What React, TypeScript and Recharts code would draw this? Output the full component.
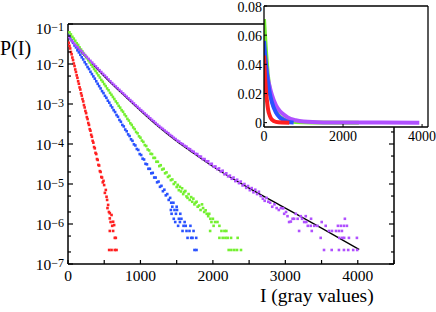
import React from 'react';
import { ComposedChart, Scatter, Line, XAxis, YAxis, CartesianGrid } from 'recharts';

const FONT = '"Liberation Serif", "Times New Roman", serif';

// ---------- main panel data: [gray value I, P(I)] ----------
const redPts = [
  [10, 3.4e-2], [20, 2.85e-2], [30, 2.45e-2], [40, 2.0e-2], [50, 1.75e-2], [60, 1.45e-2], [70, 1.25e-2], [80, 1.03e-2],
  [90, 8.9e-3], [100, 7.3e-3], [110, 6.3e-3], [120, 5.2e-3], [130, 4.5e-3], [140, 3.7e-3], [150, 3.2e-3], [160, 2.6e-3],
  [170, 2.3e-3], [180, 1.85e-3], [190, 1.62e-3], [200, 1.33e-3], [210, 1.16e-3], [220, 9.4e-4], [230, 8.2e-4], [240, 6.7e-4],
  [250, 5.9e-4], [260, 4.7e-4], [270, 4.2e-4], [280, 3.35e-4], [290, 3.0e-4], [300, 2.35e-4], [310, 2.15e-4], [320, 1.7e-4],
  [330, 1.52e-4], [340, 1.2e-4], [350, 1.08e-4], [360, 8.4e-5], [370, 7.8e-5], [380, 6.0e-5], [390, 5.6e-5], [400, 4.2e-5],
  [410, 4.0e-5], [420, 3.0e-5], [430, 2.9e-5], [440, 2.1e-5], [450, 2.0e-5], [460, 1.5e-5], [470, 1.45e-5], [480, 1.1e-5],
  [490, 1.2e-5], [499, 9.4e-6], [509, 6.0e-6], [522, 7.1e-6], [532, 4.8e-6], [540, 4.0e-6], [545, 2.5e-6], [554, 3.0e-6],
  [565, 2.0e-6], [577, 1.86e-6], [577, 1.38e-6], [577, 6.7e-7], [588, 1.12e-6], [601, 1.68e-6], [610, 9e-7], [623, 1.14e-6],
  [623, 6.7e-7], [637, 9.4e-7], [646, 4.5e-7], [660, 4.5e-7], [568, 2.24e-7], [601, 2.24e-7], [646, 2.24e-7], [670, 2.24e-7],
];

const bluePts = [
  [10, 5.1e-2], [30, 4.4e-2], [50, 3.9e-2], [70, 3.4e-2], [90, 2.9e-2], [110, 2.6e-2], [130, 2.2e-2], [150, 1.95e-2],
  [170, 1.7e-2], [190, 1.47e-2], [210, 1.3e-2], [230, 1.11e-2], [250, 9.8e-3], [270, 8.4e-3], [290, 7.5e-3], [310, 6.4e-3],
  [330, 5.6e-3], [350, 4.9e-3], [370, 4.3e-3], [390, 3.7e-3], [410, 3.2e-3], [430, 2.8e-3], [450, 2.45e-3], [470, 2.1e-3],
  [490, 1.87e-3], [510, 1.6e-3], [530, 1.43e-3], [550, 1.21e-3], [570, 1.08e-3], [590, 9.2e-4], [610, 8.2e-4], [630, 7.0e-4],
  [650, 6.3e-4], [670, 5.3e-4], [690, 4.8e-4], [710, 4.0e-4], [730, 3.6e-4], [750, 3.0e-4], [770, 2.75e-4], [790, 2.3e-4],
  [810, 2.08e-4], [830, 1.74e-4], [850, 1.58e-4], [870, 1.31e-4], [890, 1.2e-4], [910, 9.8e-5], [930, 9.2e-5], [950, 7.5e-5],
  [970, 7.1e-5], [990, 5.6e-5], [1010, 5.3e-5], [1030, 4.3e-5], [1050, 4.1e-5], [1070, 3.2e-5], [1090, 3.1e-5], [1110, 2.4e-5],
  [1130, 2.4e-5], [1150, 1.85e-5], [1170, 1.9e-5], [1190, 1.45e-5], [1210, 1.45e-5], [1230, 1.1e-5], [1250, 1.15e-5],
  [1270, 8.5e-6], [1290, 9.0e-6], [1310, 6.6e-6], [1330, 7.2e-6], [1350, 5.2e-6], [1370, 5.6e-6], [1390, 4.0e-6], [1410, 4.5e-6],
  [1420, 2.24e-6], [1425, 3.4e-6], [1430, 1.8e-6], [1440, 2.7e-6], [1455, 3.4e-6], [1460, 1.35e-6], [1470, 2.24e-6],
  [1480, 1.12e-6], [1490, 1.8e-6], [1500, 2.7e-6], [1505, 2.24e-6], [1520, 9e-7], [1530, 1.35e-6], [1545, 1.12e-6],
  [1550, 1.8e-6], [1565, 1.35e-6], [1581, 6.7e-7], [1595, 9e-7], [1610, 1.12e-6], [1625, 9e-7], [1636, 6.7e-7],
  [1650, 4.5e-7], [1677, 6.7e-7], [1690, 9e-7], [1700, 4.5e-7], [1719, 4.5e-7], [1733, 6.7e-7], [1746, 2.24e-7],
  [1770, 4.5e-7], [1774, 2.24e-7],
];

const greenPts = [
  [20, 6.2e-2], [40, 5.5e-2], [60, 4.8e-2], [80, 4.3e-2], [100, 3.8e-2], [120, 3.3e-2], [140, 3.0e-2], [160, 2.6e-2],
  [180, 2.3e-2], [200, 2.05e-2], [220, 1.8e-2], [240, 1.6e-2], [260, 1.4e-2], [280, 1.25e-2], [300, 1.1e-2], [320, 9.6e-3],
  [340, 8.6e-3], [360, 7.5e-3], [380, 6.7e-3], [400, 5.9e-3], [420, 5.2e-3], [440, 4.6e-3], [460, 4.0e-3], [480, 3.6e-3],
  [500, 3.15e-3], [520, 2.8e-3], [540, 2.45e-3], [560, 2.2e-3], [580, 1.9e-3], [600, 1.7e-3], [620, 1.5e-3], [640, 1.33e-3],
  [660, 1.16e-3], [680, 1.04e-3], [700, 9.0e-4], [720, 8.1e-4], [740, 7.0e-4], [760, 6.4e-4], [780, 5.5e-4], [800, 4.95e-4],
  [820, 4.25e-4], [840, 3.85e-4], [860, 3.3e-4], [880, 3.0e-4], [900, 2.6e-4], [920, 2.35e-4], [940, 2.0e-4], [960, 1.85e-4],
  [980, 1.56e-4], [1000, 1.44e-4], [1020, 1.22e-4], [1040, 1.13e-4], [1060, 9.4e-5], [1080, 8.9e-5], [1100, 7.3e-5],
  [1120, 6.9e-5], [1140, 5.7e-5], [1160, 5.6e-5], [1180, 4.5e-5], [1200, 4.5e-5], [1220, 3.6e-5], [1240, 3.6e-5],
  [1260, 2.8e-5], [1280, 2.95e-5], [1300, 2.3e-5], [1320, 2.4e-5], [1340, 1.85e-5], [1360, 1.95e-5], [1380, 1.5e-5],
  [1400, 1.6e-5], [1420, 1.25e-5], [1440, 1.3e-5], [1460, 1.0e-5], [1480, 1.1e-5], [1500, 8.4e-6],
  [1515, 9.5e-6], [1530, 7.0e-6], [1545, 8.5e-6], [1560, 6.5e-6], [1575, 7.8e-6], [1590, 5.6e-6], [1605, 6.3e-6],
  [1620, 6.7e-6], [1635, 4.9e-6], [1650, 4.5e-6], [1665, 5.6e-6], [1680, 4.0e-6], [1700, 4.7e-6], [1715, 3.6e-6],
  [1730, 4.3e-6], [1745, 3.1e-6], [1760, 3.4e-6], [1775, 3.6e-6], [1790, 2.7e-6], [1810, 2.9e-6], [1830, 2.24e-6],
  [1850, 3.1e-6], [1865, 2.5e-6], [1880, 2.0e-6], [1900, 2.2e-6], [1915, 1.8e-6], [1935, 1.57e-6], [1950, 1.8e-6],
  [1962, 6.7e-7], [1965, 1.35e-6], [1980, 1.12e-6], [2000, 1.35e-6], [2010, 9e-7], [2030, 1.12e-6], [2063, 1.12e-6],
  [2090, 9e-7], [2090, 4.5e-7], [2118, 6.7e-7], [2135, 4.5e-7], [2159, 6.7e-7], [2173, 4.5e-7], [2186, 6.7e-7],
  [2204, 4.5e-7], [2218, 2.24e-7], [2251, 4.5e-7], [2255, 2.24e-7], [2296, 2.24e-7], [2333, 2.24e-7], [2342, 4.5e-7],
  [2388, 2.24e-7],
];

const purplePts = [
  [10, 4.75e-2], [35, 4.15e-2], [60, 3.65e-2], [85, 3.2e-2], [110, 2.88e-2], [135, 2.6e-2], [160, 2.3e-2], [185, 2.1e-2],
  [210, 1.87e-2], [235, 1.67e-2], [260, 1.5e-2], [285, 1.34e-2], [310, 1.2e-2], [335, 1.08e-2], [360, 9.7e-3], [385, 8.7e-3],
  [410, 7.8e-3], [435, 7.0e-3], [460, 6.3e-3], [485, 5.65e-3], [510, 5.1e-3], [535, 4.6e-3], [560, 4.1e-3], [585, 3.7e-3],
  [610, 3.33e-3], [635, 3.02e-3], [660, 2.74e-3], [685, 2.48e-3], [710, 2.25e-3], [735, 2.04e-3], [760, 1.85e-3],
  [785, 1.68e-3], [810, 1.52e-3], [835, 1.38e-3], [860, 1.25e-3], [885, 1.14e-3], [910, 1.03e-3], [935, 9.3e-4],
  [960, 8.5e-4], [985, 7.7e-4], [1010, 7.0e-4], [1035, 6.4e-4], [1060, 5.8e-4], [1085, 5.3e-4], [1110, 4.85e-4],
  [1135, 4.4e-4], [1160, 4.0e-4], [1185, 3.7e-4], [1210, 3.35e-4], [1235, 3.05e-4], [1260, 2.8e-4], [1285, 2.55e-4],
  [1310, 2.38e-4], [1335, 2.17e-4], [1360, 2.0e-4], [1385, 1.86e-4], [1410, 1.68e-4], [1435, 1.57e-4], [1460, 1.43e-4],
  [1485, 1.33e-4], [1510, 1.21e-4], [1535, 1.15e-4], [1560, 1.04e-4], [1585, 9.9e-5], [1610, 9.0e-5], [1635, 8.6e-5],
  [1660, 7.7e-5], [1685, 7.4e-5], [1710, 6.7e-5], [1735, 6.4e-5], [1760, 5.7e-5], [1785, 5.6e-5], [1810, 4.9e-5],
  [1835, 4.85e-5], [1860, 4.2e-5], [1885, 4.2e-5], [1910, 3.7e-5], [1935, 3.7e-5], [1960, 3.15e-5], [1985, 3.2e-5],
  [2010, 2.7e-5], [2035, 2.75e-5], [2060, 2.35e-5], [2085, 2.45e-5], [2110, 2.05e-5], [2135, 2.15e-5], [2160, 1.75e-5],
  [2185, 1.85e-5], [2210, 1.55e-5], [2235, 1.62e-5], [2260, 1.35e-5], [2285, 1.45e-5], [2310, 1.18e-5], [2335, 1.28e-5],
  [2360, 1.05e-5], [2385, 1.15e-5], [2410, 9.2e-6], [2435, 1.0e-5], [2460, 8.0e-6], [2485, 8.9e-6], [2510, 7.0e-6],
  [2535, 7.9e-6], [2560, 6.2e-6], [2585, 7.2e-6], [2610, 5.6e-6], [2635, 6.4e-6], [2660, 5.0e-6],
  [2690, 4.3e-6], [2715, 3.8e-6], [2740, 4.5e-6], [2765, 3.6e-6], [2790, 3.4e-6], [2819, 2.7e-6], [2850, 3.1e-6],
  [2880, 2.5e-6], [2910, 2.24e-6], [2940, 2.5e-6], [2970, 2.46e-6], [2984, 1.8e-6], [3010, 2.0e-6], [3030, 1.57e-6],
  [3052, 1.12e-6], [3076, 1.15e-6], [3100, 1.35e-6], [3121, 1.35e-6], [3144, 1.8e-6], [3170, 1.35e-6], [3190, 6.7e-7],
  [3213, 1.57e-6], [3231, 1.35e-6], [3260, 1.12e-6], [3282, 1.57e-6], [3290, 1.12e-6], [3310, 9e-7], [3351, 9e-7],
  [3355, 1.35e-6], [3365, 6.7e-7], [3400, 9e-7], [3442, 9e-7], [3488, 4.5e-7], [3502, 1.12e-6], [3534, 2.24e-7],
  [3557, 9e-7], [3603, 6.7e-7], [3640, 2.24e-7], [3644, 6.7e-7], [3699, 6.7e-7], [3726, 9e-7], [3740, 6.7e-7],
  [3745, 4.5e-7], [3740, 2.24e-7], [3767, 9e-7], [3781, 6.7e-7], [3785, 4.5e-7], [3809, 9e-7], [3812, 4.5e-7],
  [3809, 2.24e-7], [3822, 1.35e-6], [3850, 9e-7], [3868, 2.24e-7], [3878, 4.5e-7], [3937, 2.24e-7], [3988, 4.5e-7],
  [3992, 2.24e-7],
];

const fitPts = [
  [0, 5.0e-2], [100, 2.95e-2], [200, 1.82e-2], [300, 1.17e-2], [400, 7.6e-3], [600, 3.24e-3], [800, 1.48e-3],
  [1000, 6.8e-4], [1250, 2.7e-4], [1500, 1.17e-4], [1750, 5.6e-5], [2000, 2.75e-5], [2500, 7.9e-6], [3000, 2.5e-6],
  [3500, 7.9e-7], [4020, 2.3e-7],
];

// ---------- inset data (linear axes) ----------
const insetRed = [[0, 0.046], [25, 0.032], [50, 0.022], [75, 0.015], [100, 0.0095], [150, 0.0045], [200, 0.002], [300, 0.0005], [450, 0.0001], [640, 0]];
const insetGreen = [[0, 0.071], [25, 0.06], [50, 0.049], [75, 0.04], [100, 0.032], [150, 0.022], [200, 0.015], [300, 0.008], [500, 0.0022], [800, 0.0004], [1200, 0.00005], [2400, 0]];
const insetBlue = [[0, 0.056], [50, 0.04], [100, 0.028], [150, 0.0195], [200, 0.014], [300, 0.007], [400, 0.0035], [500, 0.0018], [600, 0.0006], [750, 0]];
const insetPurple = [[0, 0.05], [50, 0.039], [100, 0.03], [150, 0.024], [200, 0.019], [300, 0.012], [400, 0.008], [500, 0.0055], [600, 0.0035], [800, 0.0016], [1000, 0.0007], [1500, 0.00012], [2000, 0.00003], [3930, 0]];

// ---------- ticks ----------
const xTicksMain = [0, 500, 1000, 1500, 2000, 2500, 3000, 3500, 4000, 4500];
const xLabelsMain = [0, 1000, 2000, 3000, 4000];
const yDecades = [1e-7, 1e-6, 1e-5, 1e-4, 1e-3, 1e-2, 1e-1];
const yMinorMantissas = [2, 5];
const yTicksMain = yDecades.flatMap((d, i) => (i < yDecades.length - 1 ? [d, ...yMinorMantissas.map((m) => m * d)] : [d]));
const xTicksInset = [0, 2000, 4000];
const yTicksInset = [0, 0.02, 0.04, 0.06, 0.08];

const COLORS = { red: '#ff2020', green: '#74f030', blue: '#2a52ff', purple: '#b050ff', fit: '#000' };
const M = 3;

const toXY = (pts: number[][]) => pts.map(([x, y]) => ({ x, y }));
const isDecade = (v: number) => Math.abs(Math.log10(v) - Math.round(Math.log10(v))) < 1e-6;

function BottomTick(p: any) {
  const { x, y, payload } = p;
  const ay = y - M;
  const v = payload.value;
  return (
    <g>
      <line x1={x} x2={x} y1={ay} y2={ay - 4} stroke="#000" strokeWidth={1.2} />
      {xLabelsMain.includes(v) && (
        <text x={x} y={ay + 17} textAnchor="middle" fontFamily={FONT} fontSize={15.5} fill="#000">{v}</text>
      )}
    </g>
  );
}
function TopTick(p: any) {
  const { x, y } = p;
  const ay = y + M;
  return <line x1={x} x2={x} y1={ay} y2={ay + 4} stroke="#000" strokeWidth={1.2} />;
}
function LeftTick(p: any) {
  const { x, y, payload } = p;
  const ax = x + M;
  const v = payload.value;
  const major = isDecade(v);
  const exp = Math.round(Math.log10(v));
  const base = v >= 0.099 ? y + 10 : y + 6;
  return (
    <g>
      <line x1={ax} x2={ax + (major ? 5 : 3)} y1={y} y2={y} stroke="#000" strokeWidth={1.2} />
      {major && (
        <text x={ax - 4} y={base} textAnchor="end" fontFamily={FONT} fontSize={15.5} fill="#000">
          <tspan>10</tspan>
          <tspan dy={-3.5} fontSize={12}>{'\u2212' + Math.abs(exp)}</tspan>
        </text>
      )}
    </g>
  );
}
function RightTick(p: any) {
  const { x, y, payload } = p;
  const ax = x - M;
  const major = isDecade(payload.value);
  return <line x1={ax} x2={ax - (major ? 5 : 3)} y1={y} y2={y} stroke="#000" strokeWidth={1.2} />;
}
function InsetBottomTick(p: any) {
  const { x, y, payload } = p;
  const ay = y - M;
  return (
    <g>
      <line x1={x} x2={x} y1={ay} y2={ay - 3} stroke="#000" strokeWidth={1} />
      <text x={x} y={ay + 14} textAnchor="middle" fontFamily={FONT} fontSize={14} fill="#000">{payload.value}</text>
    </g>
  );
}
function InsetLeftTick(p: any) {
  const { x, y, payload } = p;
  const ax = x + M;
  const v = payload.value;
  return (
    <g>
      <line x1={ax} x2={ax + 3} y1={y} y2={y} stroke="#000" strokeWidth={1} />
      <text x={ax - 2} y={y + 5.5} textAnchor="end" fontFamily={FONT} fontSize={14} fill="#000">{v === 0 ? '0' : v.toFixed(2)}</text>
    </g>
  );
}

const dot = (color: string) => (p: any) => (
  <rect x={p.cx - 1.3} y={p.cy - 1.3} width={2.6} height={2.6} fill={color} />
);

const axisStroke = { stroke: '#000', strokeWidth: 1.5 };

export default function App() {
  return (
    <div style={{ position: 'absolute', left: 0, top: 0, width: 436, height: 312, background: '#fff', overflow: 'hidden' }}>
      <ComposedChart width={436} height={312} margin={{ top: 14, right: 32, bottom: 18, left: 28 }}>
        <XAxis dataKey="x" type="number" domain={[0, 4500]} ticks={xTicksMain} interval={0} tickSize={0} tickMargin={M}
          tickLine={false} tick={(p: any) => <BottomTick {...p} />} axisLine={axisStroke} height={30} allowDataOverflow />
        <XAxis xAxisId="t" orientation="top" type="number" domain={[0, 4500]} ticks={xTicksMain} interval={0} tickSize={0}
          tickMargin={M} tickLine={false} tick={(p: any) => <TopTick {...p} />} axisLine={axisStroke} height={10} allowDataOverflow />
        <YAxis dataKey="y" type="number" scale="log" domain={[1e-7, 1e-1]} ticks={yTicksMain} interval={0} tickSize={0}
          tickMargin={M} tickLine={false} tick={(p: any) => <LeftTick {...p} />} axisLine={axisStroke} width={40} allowDataOverflow />
        <YAxis yAxisId="r" orientation="right" type="number" scale="log" domain={[1e-7, 1e-1]} ticks={yTicksMain} interval={0}
          tickSize={0} tickMargin={M} tickLine={false} tick={(p: any) => <RightTick {...p} />} axisLine={axisStroke} width={10} allowDataOverflow />
        <Scatter data={toXY(redPts)} fill={COLORS.red} shape={dot(COLORS.red)} isAnimationActive={false} />
        <Scatter data={toXY(bluePts)} fill={COLORS.blue} shape={dot(COLORS.blue)} isAnimationActive={false} />
        <Scatter data={toXY(greenPts)} fill={COLORS.green} shape={dot(COLORS.green)} isAnimationActive={false} />
        <Scatter data={toXY(purplePts)} fill={COLORS.purple} shape={dot(COLORS.purple)} isAnimationActive={false} />
        <Line data={toXY(fitPts)} dataKey="y" type="monotone" stroke={COLORS.fit} strokeWidth={1.3} dot={false} isAnimationActive={false} />
      </ComposedChart>

      <div style={{ position: 'absolute', left: 230, top: 0 }}>
        <ComposedChart width={206} height={146} margin={{ top: 5, right: 7, bottom: 0, left: 0 }}>
          <CartesianGrid fill="#fff" fillOpacity={1} stroke="none" horizontal={false} vertical={false} />
          <XAxis dataKey="x" type="number" domain={[0, 4150]} ticks={xTicksInset} interval={0} tickSize={0} tickMargin={M}
            tickLine={false} tick={(p: any) => <InsetBottomTick {...p} />} axisLine={{ stroke: '#000', strokeWidth: 1.3 }} height={19} allowDataOverflow />
          <XAxis xAxisId="t" orientation="top" type="number" domain={[0, 4150]} tick={false} tickLine={false}
            axisLine={{ stroke: '#000', strokeWidth: 1.3 }} height={1} />
          <YAxis dataKey="y" type="number" domain={[-0.003, 0.08]} ticks={yTicksInset} interval={0} tickSize={0} tickMargin={M}
            tickLine={false} tick={(p: any) => <InsetLeftTick {...p} />} axisLine={{ stroke: '#000', strokeWidth: 1.3 }} width={34} allowDataOverflow />
          <YAxis yAxisId="r" orientation="right" type="number" domain={[-0.003, 0.08]} tick={false} tickLine={false}
            axisLine={{ stroke: '#000', strokeWidth: 1.3 }} width={1} />
          <Line data={toXY(insetGreen)} dataKey="y" type="monotone" stroke={COLORS.green} strokeWidth={4} dot={false} isAnimationActive={false} />
          <Line data={toXY(insetPurple)} dataKey="y" type="monotone" stroke={COLORS.purple} strokeWidth={4} dot={false} isAnimationActive={false} />
          <Line data={toXY(insetBlue)} dataKey="y" type="monotone" stroke={COLORS.blue} strokeWidth={4} dot={false} isAnimationActive={false} />
          <Line data={toXY(insetRed)} dataKey="y" type="monotone" stroke={COLORS.red} strokeWidth={4} dot={false} isAnimationActive={false} />
        </ComposedChart>
      </div>

      <svg width={436} height={312} style={{ position: 'absolute', left: 0, top: 0, pointerEvents: 'none' }}>
        <text x={0} y={55} fontFamily={FONT} fontSize={20} fill="#000">P(I)</text>
        <text x={260} y={302} fontFamily={FONT} fontSize={19.5} fill="#000">I (gray values)</text>
      </svg>
    </div>
  );
}
